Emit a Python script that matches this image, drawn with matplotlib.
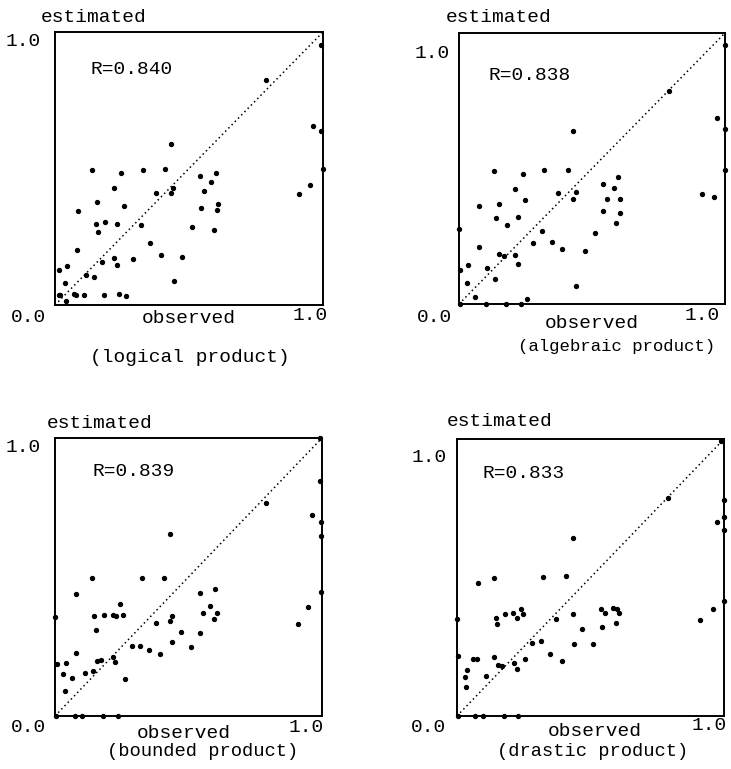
import matplotlib
matplotlib.use("Agg")
import matplotlib.pyplot as plt

titles = ["(logical product)", "(algebraic product)", "(bounded product)", "(drastic product)"]
r_labels = ["R=0.840", "R=0.838", "R=0.839", "R=0.833"]

obs_logical = [0.015, 0.015, 0.02, 0.04, 0.037, 0.044, 0.071, 0.078, 0.108, 0.083, 0.085, 0.116,
               0.138, 0.152, 0.147, 0.157, 0.159, 0.176, 0.188, 0.183, 0.219, 0.22, 0.23, 0.232,
               0.247, 0.239, 0.257, 0.265, 0.291, 0.32, 0.329, 0.354, 0.376, 0.396, 0.411, 0.432,
               0.431, 0.44, 0.443, 0.474, 0.513, 0.542, 0.544, 0.555, 0.582, 0.599, 0.595, 0.605,
               0.609, 0.788, 0.91, 0.951, 0.964, 0.994, 0.991, 0.999]
est_logical = [0.128, 0.037, 0.037, 0.015, 0.082, 0.144, 0.04, 0.038, 0.035, 0.201, 0.344, 0.11,
               0.494, 0.296, 0.104, 0.379, 0.266, 0.159, 0.305, 0.038, 0.171, 0.427, 0.146, 0.298,
               0.484, 0.039, 0.362, 0.033, 0.167, 0.293, 0.496, 0.228, 0.411, 0.183, 0.498, 0.591,
               0.409, 0.427, 0.089, 0.177, 0.285, 0.473, 0.354, 0.416, 0.452, 0.485, 0.274, 0.349,
               0.37, 0.826, 0.405, 0.439, 0.656, 0.638, 0.954, 0.5]

obs_algebraic = [0.005, 0.029, 0.035, 0.061, 0.076, 0.076, 0.107, 0.131, 0.137, 0.14, 0.149, 0.15,
                 0.168, 0.18, 0.211, 0.211, 0.223, 0.223, 0.239, 0.247, 0.255, 0.279, 0.312, 0.321,
                 0.348, 0.373, 0.389, 0.408, 0.43, 0.43, 0.44, 0.44, 0.472, 0.512, 0.541, 0.542,
                 0.556, 0.582, 0.592, 0.599, 0.604, 0.604, 0.789, 0.912, 0.958, 0.971, 1.0, 1.0,
                 1.0, 0.0, 0.004, 0.1, 0.175, 0.233]
est_algebraic = [0.125, 0.076, 0.145, 0.027, 0.363, 0.209, 0.134, 0.49, 0.093, 0.318, 0.37, 0.184,
                 0.177, 0.29, 0.425, 0.182, 0.32, 0.148, 0.481, 0.382, 0.018, 0.225, 0.269, 0.496,
                 0.227, 0.409, 0.204, 0.496, 0.637, 0.387, 0.412, 0.065, 0.195, 0.261, 0.442, 0.342,
                 0.387, 0.429, 0.299, 0.469, 0.387, 0.337, 0.785, 0.405, 0.393, 0.686, 0.957, 0.647,
                 0.496, 0.276, 0.0, 0.0, 0.0, 0.0]

obs_bounded = [0.009, 0.031, 0.036, 0.04, 0.063, 0.08, 0.08, 0.113, 0.138, 0.144, 0.147, 0.154,
               0.157, 0.172, 0.183, 0.216, 0.219, 0.226, 0.23, 0.245, 0.256, 0.261, 0.289, 0.32,
               0.327, 0.352, 0.377, 0.394, 0.409, 0.43, 0.43, 0.439, 0.439, 0.471, 0.511, 0.542,
               0.543, 0.554, 0.582, 0.595, 0.6, 0.608, 0.79, 0.911, 0.949, 0.964, 0.994, 0.996,
               0.996, 0.996, 0.994, 0.0, 0.005, 0.075, 0.1, 0.18, 0.235]
est_bounded = [0.187, 0.151, 0.091, 0.191, 0.135, 0.438, 0.227, 0.156, 0.495, 0.163, 0.359, 0.309,
               0.197, 0.201, 0.365, 0.365, 0.211, 0.195, 0.36, 0.402, 0.365, 0.133, 0.252, 0.252,
               0.496, 0.237, 0.334, 0.222, 0.496, 0.656, 0.342, 0.361, 0.267, 0.303, 0.249, 0.443,
               0.299, 0.371, 0.395, 0.35, 0.456, 0.372, 0.766, 0.33, 0.392, 0.722, 0.845, 0.699,
               0.646, 0.446, 0.999, 0.356, 0.0, 0.0, 0.0, 0.0, 0.0]

obs_drastic = [0.004, 0.0, 0.029, 0.035, 0.038, 0.059, 0.074, 0.079, 0.109, 0.137, 0.138, 0.145,
               0.15, 0.152, 0.169, 0.181, 0.21, 0.214, 0.223, 0.223, 0.238, 0.248, 0.254, 0.282,
               0.314, 0.323, 0.35, 0.371, 0.392, 0.409, 0.433, 0.433, 0.439, 0.47, 0.511, 0.54,
               0.542, 0.556, 0.585, 0.595, 0.6, 0.606, 0.791, 0.911, 0.957, 0.974, 1.0, 1.0,
               1.0, 1.0, 0.99, 0.003, 0.069, 0.097, 0.175, 0.229]
est_drastic = [0.217, 0.349, 0.14, 0.104, 0.166, 0.205, 0.205, 0.48, 0.145, 0.499, 0.213, 0.354,
               0.331, 0.184, 0.181, 0.369, 0.372, 0.19, 0.354, 0.169, 0.388, 0.369, 0.207, 0.264,
               0.272, 0.501, 0.223, 0.349, 0.2, 0.504, 0.643, 0.37, 0.26, 0.314, 0.26, 0.386,
               0.32, 0.371, 0.389, 0.335, 0.386, 0.373, 0.788, 0.348, 0.386, 0.7, 0.781, 0.72,
               0.672, 0.414, 0.993, 0.0, 0.0, 0.0, 0.0, 0.0]

obs_sets = [obs_logical, obs_algebraic, obs_bounded, obs_drastic]
est_sets = [est_logical, est_algebraic, est_bounded, est_drastic]

W, H = 731, 769
FONT = ["Liberation Mono", "DejaVu Sans Mono"]
FS = 14

fig = plt.figure(figsize=(W / 100, H / 100), dpi=100)
fig.patch.set_facecolor("white")

# axes boxes in pixels: (left, top, right, bottom)
boxes = [(55, 32, 323, 305), (459, 33, 725, 304), (55, 438, 322, 716), (457, 439, 724, 716)]

# text placements in pixels
est_pos = [(94, 17), (499, 18), (100, 424), (500, 421)]
one_left = [(23, 42), (432, 53), (23, 447), (429, 457)]
zero_pos = [(29, 317), (435, 317), (28, 728), (429, 728)]
one_right = [(310, 315), (702, 315), (306, 727), (709, 725)]
obs_pos = [(189, 319), (592, 323), (184, 733), (595, 732)]
title_pos = [(190, 358), (617, 347), (203, 752), (593, 752)]
title_fs = [14, 12.5, 13.5, 13.5]
r_pos = [(91, 70), (488, 76), (92, 471), (482, 474)]


def ftext(px, py, s, ha="center", fs=FS):
    fig.text(px / W, 1 - py / H, s, ha=ha, va="center", fontsize=fs, family=FONT, color="black")


for i in range(4):
    l, t, r, b = boxes[i]
    ax = fig.add_axes([l / W, 1 - b / H, (r - l) / W, (b - t) / H])
    ax.set_xlim(0, 1)
    ax.set_ylim(0, 1)
    ax.plot([0, 1], [0, 1], linestyle=(0, (1, 2)), color="black", linewidth=1.1)
    ax.scatter(obs_sets[i], est_sets[i], s=8, color="black", clip_on=False, zorder=3)
    ax.set_xticks([])
    ax.set_yticks([])
    for sp in ax.spines.values():
        sp.set_linewidth(1.4)
        sp.set_color("black")
    ftext(*est_pos[i], "estimated")
    ftext(*one_left[i], "1.0")
    ftext(*zero_pos[i], "0.0")
    ftext(*one_right[i], "1.0")
    ftext(*obs_pos[i], "observed")
    ftext(*title_pos[i], titles[i], fs=title_fs[i])
    ftext(*r_pos[i], r_labels[i], ha="left")

fig.savefig("out.png", dpi=100, facecolor="white")
